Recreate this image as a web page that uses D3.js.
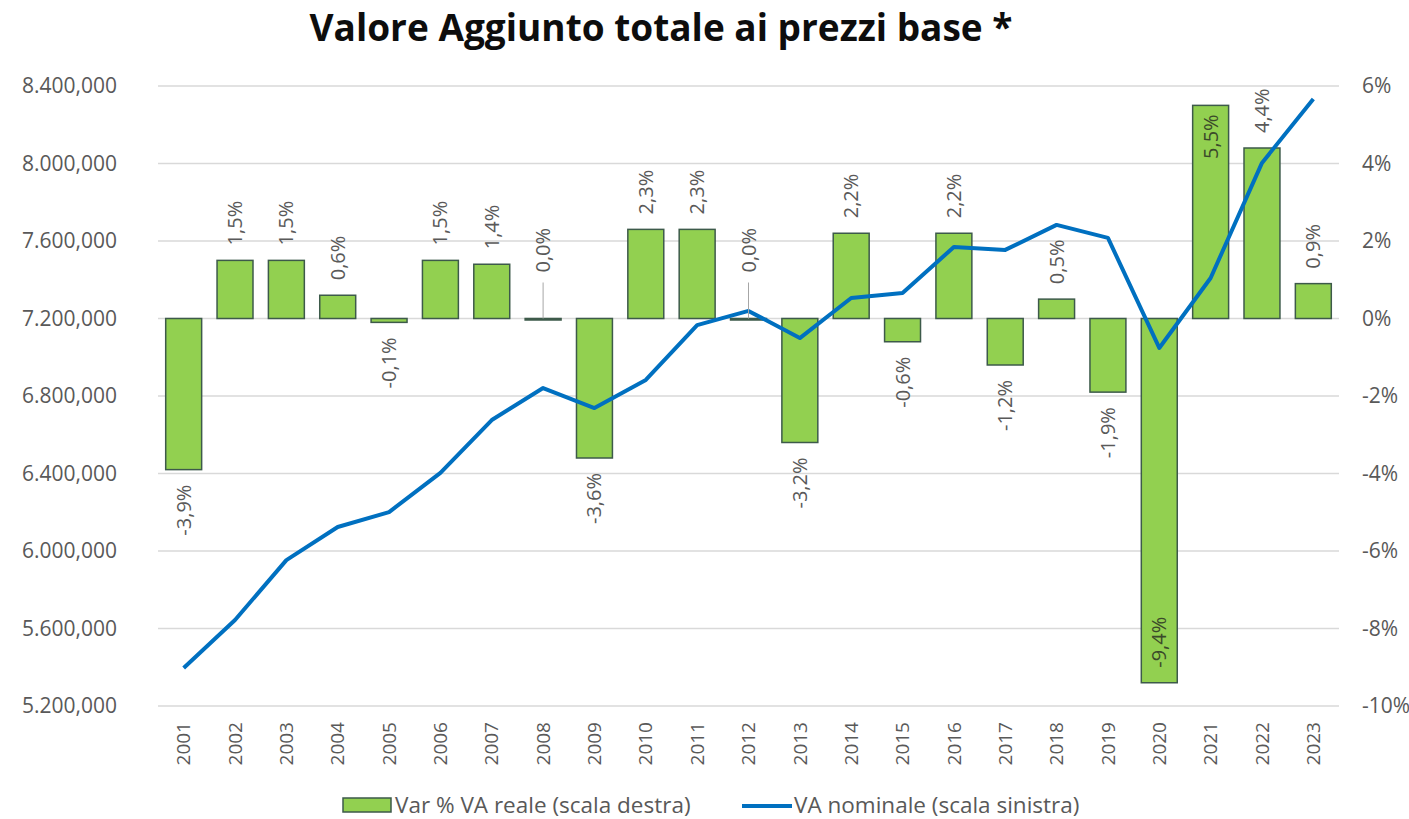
<!DOCTYPE html>
<html>
<head>
<meta charset="utf-8">
<script src="https://cdn.jsdelivr.net/npm/d3@7"></script>
<style>
    body { margin: 0; background: #fff; }
    text { font-family: "Open Sans", "Noto Sans", sans-serif; }
</style>
</head>
<body>
<div id="chart"></div>
<script>
var years = ["2001", "2002", "2003", "2004", "2005", "2006", "2007", "2008", "2009", "2010", "2011", "2012",
    "2013", "2014", "2015", "2016", "2017", "2018", "2019", "2020", "2021", "2022", "2023"];

// Var % VA reale (scala destra)
var varReale = [-3.9, 1.5, 1.5, 0.6, -0.1, 1.5, 1.4, 0.0, -3.6, 2.3, 2.3, 0.0,
    -3.2, 2.2, -0.6, 2.2, -1.2, 0.5, -1.9, -9.4, 5.5, 4.4, 0.9];

// VA nominale (scala sinistra)
var vaNominale = [5396000, 5644000, 5953000, 6124000, 6201000, 6403000, 6676000, 6841000, 6738000, 6883000, 7166000, 7239000,
    7099000, 7306000, 7332000, 7569000, 7554000, 7683000, 7616000, 7048000, 7409000, 8003000, 8333000];

var leftTicks = [5200000, 5600000, 6000000, 6400000, 6800000, 7200000, 7600000, 8000000, 8400000];
var leftTickLabels = ["5.200,000", "5.600,000", "6.000,000", "6.400,000", "6.800,000", "7.200,000", "7.600,000", "8.000,000", "8.400,000"];
var rightTicks = [-10, -8, -6, -4, -2, 0, 2, 4, 6];

var seriesNames = ["Var % VA reale (scala destra)", "VA nominale (scala sinistra)"];
var chartTitle = "Valore Aggiunto totale ai prezzi base *";

(function() {
    var width = 1409,
        height = 819,
        plot = { left: 158, right: 1339, top: 86, bottom: 706 };

    var grey = "#595959";

    var svg = d3.select("#chart")
        .append("svg")
        .attr("width", width)
        .attr("height", height);

    var xPositionScale = d3.scaleBand()
        .domain(years)
        .range([plot.left, plot.right])
        .paddingInner(0.3)
        .paddingOuter(0.15);

    var yLeft = d3.scaleLinear()
        .domain([5200000, 8400000])
        .range([plot.bottom, plot.top]);

    var yRight = d3.scaleLinear()
        .domain([-10, 6])
        .range([plot.bottom, plot.top]);

    var itLocale = d3.formatLocale({ decimal: ",", thousands: ".", grouping: [3], currency: ["", "€"], minus: "-" });
    var labelFormat = itLocale.format(".1f");

    // gridlines
    svg.append("g")
        .selectAll("line")
        .data(leftTicks)
        .enter().append("line")
        .attr("x1", plot.left)
        .attr("x2", plot.right)
        .attr("y1", function(d) { return yLeft(d); })
        .attr("y2", function(d) { return yLeft(d); })
        .attr("stroke", "#d9d9d9")
        .attr("stroke-width", 1.5);

    // left axis
    var leftAxis = d3.axisLeft(yLeft)
        .tickValues(leftTicks)
        .tickSize(0)
        .tickPadding(0)
        .tickFormat(function(d, i) { return leftTickLabels[i]; });

    svg.append("g")
        .attr("class", "axis y-left")
        .attr("transform", "translate(117,0)")
        .call(leftAxis)
        .call(function(g) { g.select(".domain").remove(); })
        .selectAll("text")
        .attr("font-size", 21)
        .attr("font-family", "'Open Sans', sans-serif")
        .attr("fill", grey);

    // right axis
    var rightAxis = d3.axisRight(yRight)
        .tickValues(rightTicks)
        .tickSize(0)
        .tickPadding(0)
        .tickFormat(function(d) { return d + "%"; });

    svg.append("g")
        .attr("class", "axis y-right")
        .attr("transform", "translate(1362,0)")
        .call(rightAxis)
        .call(function(g) { g.select(".domain").remove(); })
        .selectAll("text")
        .attr("font-size", 21)
        .attr("font-family", "'Open Sans', sans-serif")
        .attr("fill", grey);

    // bars
    svg.selectAll(".bar")
        .data(varReale)
        .enter().append("rect")
        .attr("class", "bar")
        .attr("x", function(d, i) { return xPositionScale(years[i]); })
        .attr("width", xPositionScale.bandwidth())
        .attr("y", function(d) { return Math.min(yRight(d), yRight(0)); })
        .attr("height", function(d) { return Math.max(Math.abs(yRight(d) - yRight(0)), 1.5); })
        .attr("fill", "#92d050")
        .attr("stroke", "#3d5a4a")
        .attr("stroke-width", 1.5);

    // x axis labels
    svg.append("g")
        .selectAll("text")
        .data(years)
        .enter().append("text")
        .attr("transform", function(d) {
            return "translate(" + (xPositionScale(d) + xPositionScale.bandwidth() / 2) + ",722) rotate(-90)";
        })
        .attr("dy", "0.35em")
        .attr("text-anchor", "end")
        .attr("font-size", 19)
        .attr("fill", grey)
        .text(function(d) { return d; });

    // line
    var line = d3.line()
        .x(function(d, i) { return xPositionScale(years[i]) + xPositionScale.bandwidth() / 2; })
        .y(function(d) { return yLeft(d); });

    svg.append("path")
        .datum(vaNominale)
        .attr("d", line)
        .attr("fill", "none")
        .attr("stroke", "#0070c0")
        .attr("stroke-width", 4)
        .attr("stroke-linejoin", "round");

    // data labels (rotated), placed inside the bar when there is no room outside
    var gap = 15;
    var labels = svg.append("g");
    varReale.forEach(function(v, i) {
        var cx = xPositionScale(years[i]) + xPositionScale.bandwidth() / 2;
        var txt = labelFormat(v) + "%";
        var t = labels.append("text")
            .attr("dy", "0.35em")
            .attr("font-size", 20)
            .attr("fill", grey)
            .text(txt);
        var len = t.node().getComputedTextLength();
        var y0 = yRight(0), y1 = yRight(v), y, anchor;

        if (v === 0) {
            y = y0 - 46;
            anchor = "start";
            labels.append("line")
                .attr("x1", cx).attr("x2", cx)
                .attr("y1", y0 - 36).attr("y2", y0)
                .attr("stroke", "#a6a6a6")
                .attr("stroke-width", 1);
        } else if (v > 0) {
            if (y1 - gap - len < 75) {
                y = y1 + 9; anchor = "end";
                t.attr("fill", "#3b4a2a");
            } else {
                y = y1 - gap; anchor = "start";
            }
        } else {
            if (y1 + gap + len > 715) {
                y = y1 - gap; anchor = "start";
                t.attr("fill", "#3b4a2a");
            } else {
                y = y1 + gap; anchor = "end";
            }
        }
        t.attr("text-anchor", anchor)
            .attr("transform", "translate(" + cx + "," + y + ") rotate(-90)");
    });

    // title
    svg.append("text")
        .attr("x", 661)
        .attr("y", 41)
        .attr("text-anchor", "middle")
        .attr("font-size", 37)
        .attr("font-weight", "bold")
        .attr("fill", "#0d0d0d")
        .text(chartTitle);

    // legend
    var legend = svg.append("g");
    legend.append("rect")
        .attr("x", 343)
        .attr("y", 798)
        .attr("width", 48)
        .attr("height", 14)
        .attr("fill", "#92d050")
        .attr("stroke", "#3d5a4a")
        .attr("stroke-width", 1.5);
    legend.append("text")
        .attr("x", 395)
        .attr("y", 813)
        .attr("font-size", 22.5)
        .attr("fill", grey)
        .text(seriesNames[0]);
    legend.append("line")
        .attr("x1", 742).attr("x2", 792)
        .attr("y1", 806).attr("y2", 806)
        .attr("stroke", "#0070c0")
        .attr("stroke-width", 4);
    legend.append("text")
        .attr("x", 794)
        .attr("y", 813)
        .attr("font-size", 22.5)
        .attr("fill", grey)
        .text(seriesNames[1]);
})();
</script>
</body>
</html>
